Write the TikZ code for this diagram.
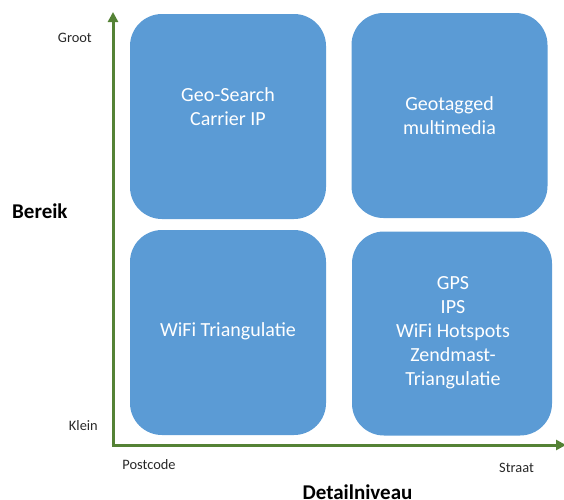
\documentclass[tikz,border=0pt]{standalone}
\usepackage{fontspec}
\setmainfont{Carlito}
\usetikzlibrary{arrows.meta}
\definecolor{boxblue}{RGB}{91,155,213}
\definecolor{axisgreen}{RGB}{84,130,53}
\definecolor{labelgray}{RGB}{40,40,40}
\tikzset{
  quadbox/.style={draw=none, fill=boxblue, rounded corners=32pt, inner sep=0pt},
  boxtext/.style={text=white, align=center, font=\fontsize{20}{24}\selectfont},
  axisline/.style={draw=axisgreen, line width=3pt, -{Triangle[width=10pt,length=10pt]}},
  small/.style={text=labelgray, font=\fontsize{14.4}{17}\selectfont, inner sep=0pt},
  axtitle/.style={text=black, font=\bfseries\fontsize{21}{25}\selectfont, inner sep=0pt}
}
\begin{document}
\begin{tikzpicture}[x=1pt,y=-1pt]
\useasboundingbox (0,0) rectangle (564,499);
% boxes
\node[quadbox, minimum width=196pt, minimum height=205pt] (tl) at (228,116.5) {};
\node[quadbox, minimum width=196pt, minimum height=205pt] (tr) at (449.5,115.5) {};
\node[quadbox, minimum width=196pt, minimum height=205pt] (bl) at (228,332.5) {};
\node[quadbox, minimum width=200pt, minimum height=204pt] (br) at (452,333.5) {};
% box texts
\node[boxtext] (tltext) at (228,106.5) {Geo-Search\\Carrier IP};
\node[boxtext] (trtext) at (449.5,115.5) {Geotagged\\multimedia};
\node[boxtext] (bltext) at (228,331) {WiFi Triangulatie};
\node[boxtext] (brtext) at (453,332.5) {GPS\\IPS\\WiFi Hotspots\\Zendmast-\\Triangulatie};
% axes
\coordinate (origin) at (113,445);
\coordinate (hstart) at (111.5,445);
\coordinate (ytop) at (113,12);
\coordinate (xend) at (566,445);
\draw[axisline] (origin) -- (ytop);
\draw[axisline] (hstart) -- (xend);
% labels
\node[small, anchor=base east] (groot) at (92,42) {Groot};
\node[small, anchor=base east] (klein) at (98,430) {Klein};
\node[small, anchor=base] (postcode) at (149,469) {Postcode};
\node[small, anchor=base] (straat) at (516.5,472) {Straat};
\node[axtitle, anchor=base west] (bereik) at (12,218) {Bereik};
\node[axtitle, anchor=base] (detail) at (357.5,499) {Detailniveau};
\end{tikzpicture}
\end{document}
